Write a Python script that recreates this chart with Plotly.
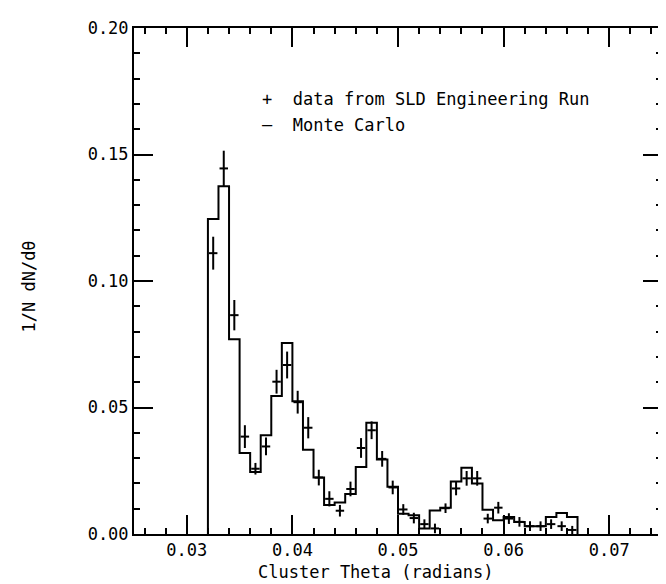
import numpy as np
import plotly.graph_objects as go

# Histogram bin edges (radians)
bin_edges = [0.032, 0.033, 0.034, 0.035, 0.036, 0.037, 0.038, 0.039, 0.040,
             0.041, 0.042, 0.043, 0.044, 0.045, 0.046, 0.047, 0.048, 0.049,
             0.050, 0.051, 0.052, 0.053, 0.054, 0.055, 0.056, 0.057, 0.058,
             0.059, 0.060, 0.061, 0.062, 0.063, 0.064, 0.065, 0.066, 0.067]

# Monte Carlo histogram heights (1/N dN/dtheta)
mc_values = [0.1245, 0.1375, 0.0770, 0.0320, 0.0245, 0.0390, 0.0545, 0.0755,
             0.0525, 0.0333, 0.0223, 0.0115, 0.0125, 0.0158, 0.0265, 0.0440,
             0.0294, 0.0187, 0.0080, 0.0074, 0.0022, 0.0093, 0.0104, 0.0208,
             0.0262, 0.0200, 0.0096, 0.0054, 0.0067, 0.0047, 0.0031, 0.0031,
             0.0067, 0.0083, 0.0067]

# Data from SLD engineering run (bin centres, values, errors)
data_theta = [0.0325, 0.0335, 0.0345, 0.0355, 0.0365, 0.0375, 0.0385, 0.0395,
              0.0405, 0.0415, 0.0425, 0.0435, 0.0445, 0.0455, 0.0465, 0.0475,
              0.0485, 0.0495, 0.0505, 0.0515, 0.0525, 0.0535, 0.0545, 0.0555,
              0.0565, 0.0575, 0.0585, 0.0595, 0.0605, 0.0615, 0.0625, 0.0635,
              0.0645, 0.0655, 0.0665]
data_values = [0.1110, 0.1445, 0.0865, 0.0385, 0.0258, 0.0346, 0.0602, 0.0668,
               0.0521, 0.0420, 0.0223, 0.0139, 0.0092, 0.0178, 0.0340, 0.0410,
               0.0297, 0.0184, 0.0097, 0.0063, 0.0039, 0.0022, 0.0102, 0.0180,
               0.0220, 0.0220, 0.0061, 0.0104, 0.0061, 0.0048, 0.0031, 0.0031,
               0.0039, 0.0031, 0.0016]
data_errors = [0.0065, 0.0070, 0.0060, 0.0045, 0.0023, 0.0035, 0.0047, 0.0053,
               0.0045, 0.0042, 0.0031, 0.0030, 0.0023, 0.0029, 0.0039, 0.0035,
               0.0031, 0.0027, 0.0021, 0.0021, 0.0019, 0.0019, 0.0019, 0.0027,
               0.0029, 0.0029, 0.0019, 0.0023, 0.0021, 0.0019, 0.0019, 0.0019,
               0.0019, 0.0019, 0.0016]

x_ticks = [0.03, 0.04, 0.05, 0.06, 0.07]
y_ticks = [0.00, 0.05, 0.10, 0.15, 0.20]

edges = np.array(bin_edges)
xs = np.repeat(edges, 2)
ys = np.concatenate([[0.0], np.repeat(np.array(mc_values), 2), [0.0]])

FONT = "DejaVu Sans Mono"

fig = go.Figure()
fig.add_trace(go.Scatter(x=xs, y=ys, mode="lines",
                         line=dict(color="black", width=2),
                         name="Monte Carlo", showlegend=False))
fig.add_trace(go.Scatter(x=data_theta, y=data_values, mode="markers",
                         marker=dict(size=1, color="black"),
                         error_x=dict(type="constant", value=0.0004, width=0,
                                      thickness=2, color="black"),
                         error_y=dict(type="data", array=data_errors, width=0,
                                      thickness=2, color="black"),
                         name="data", showlegend=False))

axis_common = dict(showgrid=False, zeroline=False, showline=True,
                   linecolor="black", linewidth=2, mirror="ticks",
                   ticks="inside", ticklen=19, tickwidth=2, tickcolor="black",
                   tickfont=dict(family=FONT, size=17, color="black"))

fig.update_xaxes(range=[0.025, 0.075], tickvals=x_ticks, tickformat=".2f",
                 ticklabelstandoff=0,
                 minor=dict(dtick=0.002, tick0=0.0, ticks="inside", ticklen=6,
                            tickwidth=2, tickcolor="black"),
                 **axis_common)
fig.update_yaxes(range=[0.0, 0.20], tickvals=y_ticks, tickformat=".2f",
                 minor=dict(dtick=0.01, tick0=0.0, ticks="inside", ticklen=6,
                            tickwidth=2, tickcolor="black"),
                 **axis_common)

fig.add_annotation(x=0.0369, y=0.1718, xref="x", yref="y", xanchor="left",
                   yanchor="middle", showarrow=False,
                   text="+  data from SLD Engineering Run",
                   font=dict(family=FONT, size=17, color="black"))
fig.add_annotation(x=0.0369, y=0.1615, xref="x", yref="y", xanchor="left",
                   yanchor="middle", showarrow=False,
                   text="—  Monte Carlo",
                   font=dict(family=FONT, size=17, color="black"))
fig.add_annotation(x=0.4566, y=-0.075, xref="paper", yref="paper",
                   xanchor="center", yanchor="middle", showarrow=False,
                   text="Cluster Theta (radians)",
                   font=dict(family=FONT, size=17, color="black"))
fig.add_annotation(x=-0.198, y=0.49, xref="paper", yref="paper",
                   xanchor="center", yanchor="middle", showarrow=False,
                   textangle=-90, text="1/N dN/dθ",
                   font=dict(family=FONT, size=17, color="black"))

# The page body adds an 8 px margin, so the figure is laid out 8 px up/left
fig.update_layout(width=666, height=584, paper_bgcolor="white",
                  plot_bgcolor="white",
                  margin=dict(l=126, r=10, t=12, b=58, pad=0),
                  showlegend=False)

fig.write_html("out.html")
